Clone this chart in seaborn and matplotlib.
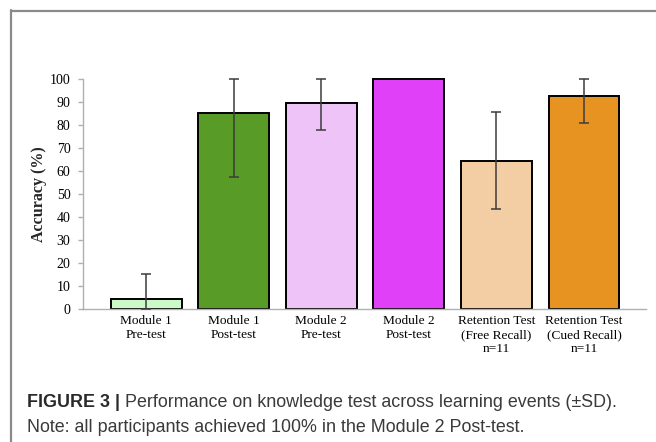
import matplotlib
matplotlib.use("Agg")
import matplotlib.pyplot as plt
import seaborn as sns
import numpy as np
import pandas as pd
from matplotlib.lines import Line2D

# Data: mean accuracy (%) and SD per learning event
categories = [
    "Module 1\nPre-test",
    "Module 1\nPost-test",
    "Module 2\nPre-test",
    "Module 2\nPost-test",
    "Retention Test\n(Free Recall)\nn=11",
    "Retention Test\n(Cued Recall)\nn=11",
]
accuracy = [4.2, 85.0, 89.7, 100.0, 64.5, 92.8]
sd = [11.2, 27.5, 11.9, 0.0, 21.0, 12.0]
bar_colors = ["#ccf9c8", "#589b27", "#eec3f8", "#e041f8", "#f3cea4", "#e69322"]
yticks = list(range(0, 101, 10))

caption_bold = "FIGURE 3 |"
caption_rest = " Performance on knowledge test across learning events (\u00b1SD)."
caption_line2 = "Note: all participants achieved 100% in the Module 2 Post-test."

sns.set_theme(style="white")
plt.rcParams["font.family"] = ["Liberation Serif", "DejaVu Serif"]

df = pd.DataFrame({"event": categories, "accuracy": accuracy})

fig = plt.figure(figsize=(6.56, 4.42), dpi=100)
ax = fig.add_axes([0.1265, 0.3009, 0.8585, 0.5204])

sns.barplot(
    data=df, x="event", y="accuracy", hue="event", palette=bar_colors,
    order=categories, hue_order=categories, legend=False, errorbar=None,
    width=0.81, edgecolor="black", linewidth=1.4, saturation=1, ax=ax,
)
for p in ax.patches:
    p.set_clip_on(False)

# SD whiskers, bounded to the 0-100 scale
acc = np.array(accuracy)
sdv = np.array(sd)
lo = acc - np.clip(acc - sdv, 0, 100)
hi = np.clip(acc + sdv, 0, 100) - acc
x = np.arange(len(categories))
mask = sdv > 0
eb = ax.errorbar(x[mask], acc[mask], yerr=[lo[mask], hi[mask]], fmt="none",
                 ecolor="#3c3c3c", elinewidth=1.1, capsize=3.5, capthick=1.1,
                 zorder=5)
for artist in list(eb.lines[1]) + list(eb.lines[2]):
    artist.set_clip_on(False)

ax.set_xlim(-0.72, 5.71)
ax.set_ylim(0, 100)
ax.set_yticks(yticks)
ax.set_yticklabels([str(t) for t in yticks], fontsize=10)
ax.set_xlabel("")
ax.set_ylabel("Accuracy (%)", fontsize=11.5, fontweight="bold", labelpad=2)

for lbl in ax.get_xticklabels():
    lbl.set_fontsize(9.6)
    lbl.set_multialignment("center")
    lbl.set_linespacing(1.25)

for s in ["top", "right"]:
    ax.spines[s].set_visible(False)
for s in ["left", "bottom"]:
    ax.spines[s].set_color("#b0b0b0")
    ax.spines[s].set_linewidth(1.0)
ax.tick_params(axis="y", length=3.5, color="#b0b0b0", width=1.0, pad=5.5,
               left=True, labelcolor="black")
ax.tick_params(axis="x", length=0, pad=4, labelcolor="black")

# Frame lines along the top and left edges
fig.add_artist(Line2D([10.5 / 656, 1.0], [1 - 10.8 / 442] * 2,
                      transform=fig.transFigure, color="#8a8a8a", lw=1.6))
fig.add_artist(Line2D([10.8 / 656] * 2, [0.0, 1 - 10.0 / 442],
                      transform=fig.transFigure, color="#8a8a8a", lw=1.6))

# Caption
sans = ["Liberation Sans", "DejaVu Sans"]
cap_size = 12.9
t1 = fig.text(27 / 656, 1 - 407 / 442, caption_bold, fontsize=cap_size,
              fontweight="bold", family=sans, color="#2a2a2a", va="baseline")
fig.canvas.draw()
bb = t1.get_window_extent()
fig.text(bb.x1 / fig.bbox.width, 1 - 407 / 442, caption_rest, fontsize=cap_size,
         family=sans, color="#3a3a3a", va="baseline")
fig.text(27 / 656, 1 - 432 / 442, caption_line2, fontsize=cap_size,
         family=sans, color="#3a3a3a", va="baseline")

fig.savefig("out.png", dpi=100)
